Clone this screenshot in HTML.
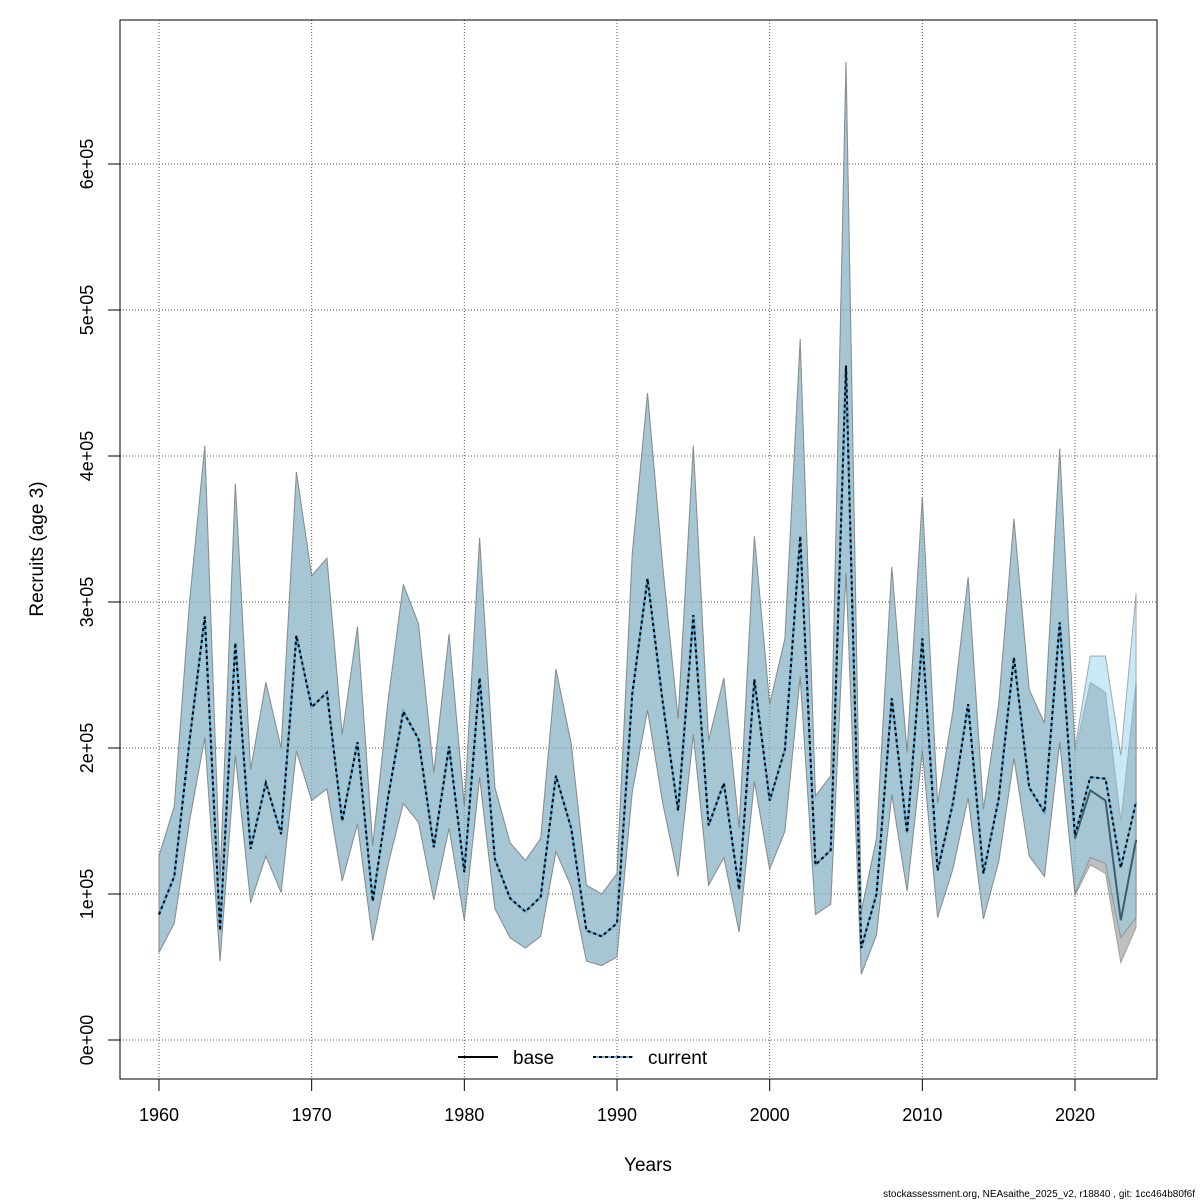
<!DOCTYPE html>
<html><head><meta charset="utf-8"><style>
body{margin:0;background:#fff}
svg{display:block;font-family:"Liberation Sans",Arial,sans-serif}
</style></head><body>
<svg id="chart" width="1200" height="1200" viewBox="0 0 1200 1200"></svg>
<script>
const years=[];for(let y=1960;y<=2024;y++)years.push(y);
const baseEst=[86,112,205,290,75,272,131,176,141,277,228,238,150,204,95,166,225,206,132,201,115,248,124,97,88,98,181,145,75,71,80,237,316,231,157,291,147,176,103,247,164,199,345,120,130,462,63,100,234,142,275,116,162,230,114,165,262,173,156,286,138,171,164,82,137];
const baseLow=[60,80,150,207,54,195,94,126,101,198,164,172,109,148,68,120,162,149,96,145,82,180,90,70,63,71,129,105,54,51,57,170,226,162,112,209,106,125,74,177,117,143,249,86,93,320,45,72,168,102,198,84,117,166,83,122,193,126,112,204,99,120,114,53,77];
const baseHigh=[126,160,300,407,110,381,185,245,200,389,318,330,209,283,133,232,312,285,183,278,160,344,173,135,123,138,254,203,106,100,114,333,443,324,220,407,205,248,145,345,230,275,480,167,181,670,88,138,324,197,372,162,225,317,158,230,357,240,217,405,197,245,238,150,245];
const curEst=[86,112,205,290,75,272,131,176,141,277,228,238,150,204,95,166,225,206,132,201,115,248,124,97,88,98,181,145,75,71,80,237,316,231,157,291,147,176,103,247,164,199,345,120,130,462,63,100,234,142,275,116,162,230,114,165,262,173,156,286,140,180,179,118,163];
const curLow=[60,80,150,207,54,195,94,126,101,198,164,172,109,148,68,120,162,149,96,145,82,180,90,70,63,71,129,105,54,51,57,170,226,162,112,209,106,125,74,177,117,143,249,86,93,320,45,72,168,102,198,84,117,166,83,122,193,126,112,204,100,125,121,70,84];
const curHigh=[126,160,300,407,110,381,185,245,200,389,318,330,209,283,133,232,312,285,183,278,160,344,173,135,123,138,254,203,106,100,114,333,443,324,220,407,205,248,145,345,230,275,480,167,181,670,88,138,324,197,372,162,225,317,158,230,357,240,217,405,200,263,263,195,306];
const xTicks=[1960,1970,1980,1990,2000,2010,2020];
const yTicks=[0,100,200,300,400,500,600];
const yTickLabels=["0e+00","1e+05","2e+05","3e+05","4e+05","5e+05","6e+05"];

const svg=document.getElementById('chart');
const NS='http://www.w3.org/2000/svg';
const X=y=>159+(y-1960)*(916/60);
const Y=v=>1040-v*1.46;
function mk(tag,attrs,parent){const e=document.createElementNS(NS,tag);for(const k in attrs)e.setAttribute(k,attrs[k]);(parent||svg).appendChild(e);return e;}

xTicks.forEach(t=>{const g=mk('line',{x1:X(t),x2:X(t),y1:20,y2:1079,stroke:'#555','stroke-width':1,'stroke-dasharray':'1,2'});

});
yTicks.forEach(t=>{const g=mk('line',{x1:120,x2:1157,y1:Y(t),y2:Y(t),stroke:'#555','stroke-width':1,'stroke-dasharray':'1,2'});

});

function band(lo,hi,fill,name){let pts=years.map((y,i)=>X(y)+','+Y(hi[i]));for(let i=years.length-1;i>=0;i--)pts.push(X(years[i])+','+Y(lo[i]));
const p=mk('polygon',{points:pts.join(' '),fill:fill,stroke:'rgba(120,120,120,0.6)','stroke-width':1});

}
function line(vals,attrs,name){const p=mk('polyline',Object.assign({points:years.map((y,i)=>X(y)+','+Y(vals[i])).join(' '),fill:'none'},attrs));

}

band(baseLow,baseHigh,'rgba(128,128,128,0.5)','base-ci-band');
line(baseEst,{stroke:'#000','stroke-width':2},'base-line');
band(curLow,curHigh,'rgba(135,206,235,0.45)','current-ci-band');
line(curEst,{stroke:'#56b4e9','stroke-width':2},'current-line-underlay');
line(curEst,{stroke:'#000','stroke-width':2,'stroke-dasharray':'3,3'},'current-line');

const box=mk('rect',{x:120,y:20,width:1037,height:1059,fill:'none',stroke:'#000','stroke-width':1});



xTicks.forEach(t=>{mk('line',{x1:X(t),x2:X(t),y1:1079,y2:1091,stroke:'#000'});
const l=mk('text',{x:X(t),y:1121,'text-anchor':'middle','font-size':18});l.textContent=t;

});
yTicks.forEach((t,i)=>{mk('line',{x1:108,x2:120,y1:Y(t),y2:Y(t),stroke:'#000'});
const l=mk('text',{x:0,y:0,'text-anchor':'middle','font-size':18,transform:`translate(93,${Y(t)}) rotate(-90)`});l.textContent=yTickLabels[i];

});
</script>
<div style="position:absolute;left:0;top:0;width:1200px;height:1200px;pointer-events:none">
<svg width="1200" height="1200" style="position:absolute;left:0;top:0">
<g>
<line x1="458" x2="498" y1="1057" y2="1057" stroke="#000" stroke-width="2"/>
<text x="513" y="1064" font-size="19" font-family="Liberation Sans, sans-serif">base</text>
<line x1="593" x2="633" y1="1057" y2="1057" stroke="#56b4e9" stroke-width="2"/>
<line x1="593" x2="633" y1="1057" y2="1057" stroke="#000" stroke-width="2" stroke-dasharray="3,3"/>
<text x="648" y="1064" font-size="19" font-family="Liberation Sans, sans-serif">current</text>
</g>
<text x="648" y="1171" font-size="19" text-anchor="middle" font-family="Liberation Sans, sans-serif">Years</text>
<text transform="translate(43,549) rotate(-90)" font-size="19" text-anchor="middle" font-family="Liberation Sans, sans-serif">Recruits (age 3)</text>
<text x="1195" y="1197" font-size="10" text-anchor="end" font-family="Liberation Sans, sans-serif">stockassessment.org, NEAsaithe_2025_v2, r18840 , git: 1cc464b80f6f</text>
</svg></div>
</body></html>
